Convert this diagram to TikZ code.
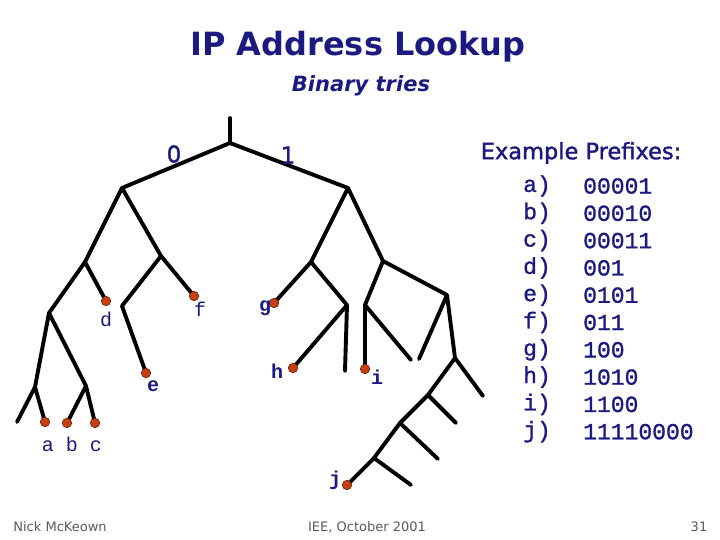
\documentclass[tikz,border=0pt]{standalone}
\usepackage{fontspec}
\setmainfont{DejaVu Sans}
\newfontfamily\monof{Liberation Mono}
\newfontfamily\monomed[FakeBold=1.2]{Liberation Mono}
\newfontfamily\titlef{DejaVu Sans}
\newfontfamily\titlemed[FakeBold=1.5]{DejaVu Sans}
\definecolor{navy}{RGB}{26,26,128}
\definecolor{dotred}{RGB}{196,64,16}
\definecolor{dotedge}{RGB}{110,30,10}
\definecolor{footgray}{RGB}{90,90,90}
\begin{document}
\begin{tikzpicture}[x=1pt,y=-1pt,
  edge/.style={line width=3.9pt,line cap=round,line join=round},
  leaf/.style={circle,fill=dotred,draw=dotedge,line width=0.6pt,minimum size=9.5pt,inner sep=0pt},
  lbl/.style={text=navy,font=\monof\fontsize{20}{20}\selectfont,inner sep=0pt},
  blbl/.style={text=navy,font=\monof\bfseries\fontsize{20}{20}\selectfont,inner sep=0pt},
  bitlbl/.style={text=navy,font=\titlemed\fontsize{23}{23}\selectfont,inner sep=0pt},
  tab/.style={text=navy,font=\monomed\fontsize{23}{23}\selectfont,inner sep=0pt},
  foot/.style={text=footgray,font=\fontsize{13}{13}\selectfont,inner sep=0pt}]
\useasboundingbox (0,0) rectangle (720,540);
% title
\node[text=navy,font=\titlef\bfseries\fontsize{32}{32}\selectfont] (title) at (358,47) {IP Address Lookup};
\node[text=navy,font=\titlef\bfseries\itshape\fontsize{21}{21}\selectfont] (subtitle) at (361,86) {Binary tries};
% tree points
\coordinate (top) at (230,118);
\coordinate (r) at (230,143);
\coordinate (n0) at (122,188);
\coordinate (n1) at (348,188);
\coordinate (n00) at (85,262);
\coordinate (n01) at (161,256);
\coordinate (n000) at (49,313);
\coordinate (n010) at (122,306);
\coordinate (n0000) at (35,387);
\coordinate (n0001) at (86,386);
\coordinate (s00000) at (17,422);
\coordinate (n10) at (311,262);
\coordinate (n11) at (383,261);
\coordinate (n101) at (347,305);
\coordinate (s1011) at (345,371);
\coordinate (n110) at (365,305);
\coordinate (n111) at (447,295);
\coordinate (s1101) at (411,360);
\coordinate (s1110) at (419,359);
\coordinate (n1111) at (455,358);
\coordinate (s11111) at (483,396);
\coordinate (n11110) at (428,395);
\coordinate (s111101) at (456,423);
\coordinate (n111100) at (400,423);
\coordinate (s1111001) at (438,459);
\coordinate (n1111000) at (374,458);
\coordinate (s11110001) at (411,485);
% leaves
\coordinate (na) at (45,422);
\coordinate (nb) at (67,423);
\coordinate (nc) at (95,423);
\coordinate (nd) at (106,301);
\coordinate (ne) at (146,373);
\coordinate (nf) at (194,296);
\coordinate (ng) at (274,303);
\coordinate (nh) at (293,368);
\coordinate (ni) at (365,369);
\coordinate (nj) at (347,485);
% edges
\draw[edge] (top) -- (r);
\draw[edge] (n0) -- (r) -- (n1);
\draw[edge] (n00) -- (n0) -- (n01);
\draw[edge] (n000) -- (n00) -- (nd);
\draw[edge] (n010) -- (n01) -- (nf);
\draw[edge] (n010) -- (ne);
\draw[edge] (n0000) -- (n000) -- (n0001);
\draw[edge] (s00000) -- (n0000) -- (na);
\draw[edge] (nb) -- (n0001) -- (nc);
\draw[edge] (n10) -- (n1) -- (n11);
\draw[edge] (ng) -- (n10) -- (n101);
\draw[edge] (nh) -- (n101) -- (s1011);
\draw[edge] (n110) -- (n11) -- (n111);
\draw[edge] (ni) -- (n110) -- (s1101);
\draw[edge] (s1110) -- (n111) -- (n1111);
\draw[edge] (n11110) -- (n1111) -- (s11111);
\draw[edge] (n111100) -- (n11110) -- (s111101);
\draw[edge] (n1111000) -- (n111100) -- (s1111001);
\draw[edge] (nj) -- (n1111000) -- (s11110001);
% leaf dots
\foreach \l in {a,b,c,d,e,f,g,h,i,j} \node[leaf] (dot\l) at (n\l) {};
% bit labels
\node[bitlbl] (bit0) at (174,154) {0};
\node[bitlbl] (bit1) at (288,155) {1};
% leaf labels
\node[lbl] (labc) at (72,444) {a b c};
\node[lbl] (ld) at (106,319) {d};
\node[lbl] (lf) at (200,309) {f};
\node[blbl] (le) at (153,386) {e};
\node[blbl] (lg) at (265,308) {g};
\node[blbl] (lh) at (277,371) {h};
\node[blbl] (li) at (377,377) {i};
\node[blbl] (lj) at (335,480) {j};
% table
\node[text=navy,font=\titlemed\fontsize{22.5}{22.5}\selectfont] (extitle) at (581,153) {Example Prefixes:};
\foreach \k/\p [count=\n from 0] in {a/00001,b/00010,c/00011,d/001,e/0101,f/011,g/100,h/1010,i/1100,j/11110000}{
  \node[tab,anchor=east] (tk\k) at (551,186+27.3*\n) {\k)};
  \node[tab,anchor=west] (tp\k) at (583,186+27.3*\n) {\p};
}
% footer
\node[foot] (fl) at (60,527) {Nick McKeown};
\node[foot] (fc) at (367,527) {IEE, October 2001};
\node[foot] (fr) at (699,527) {31};
\end{tikzpicture}
\end{document}
